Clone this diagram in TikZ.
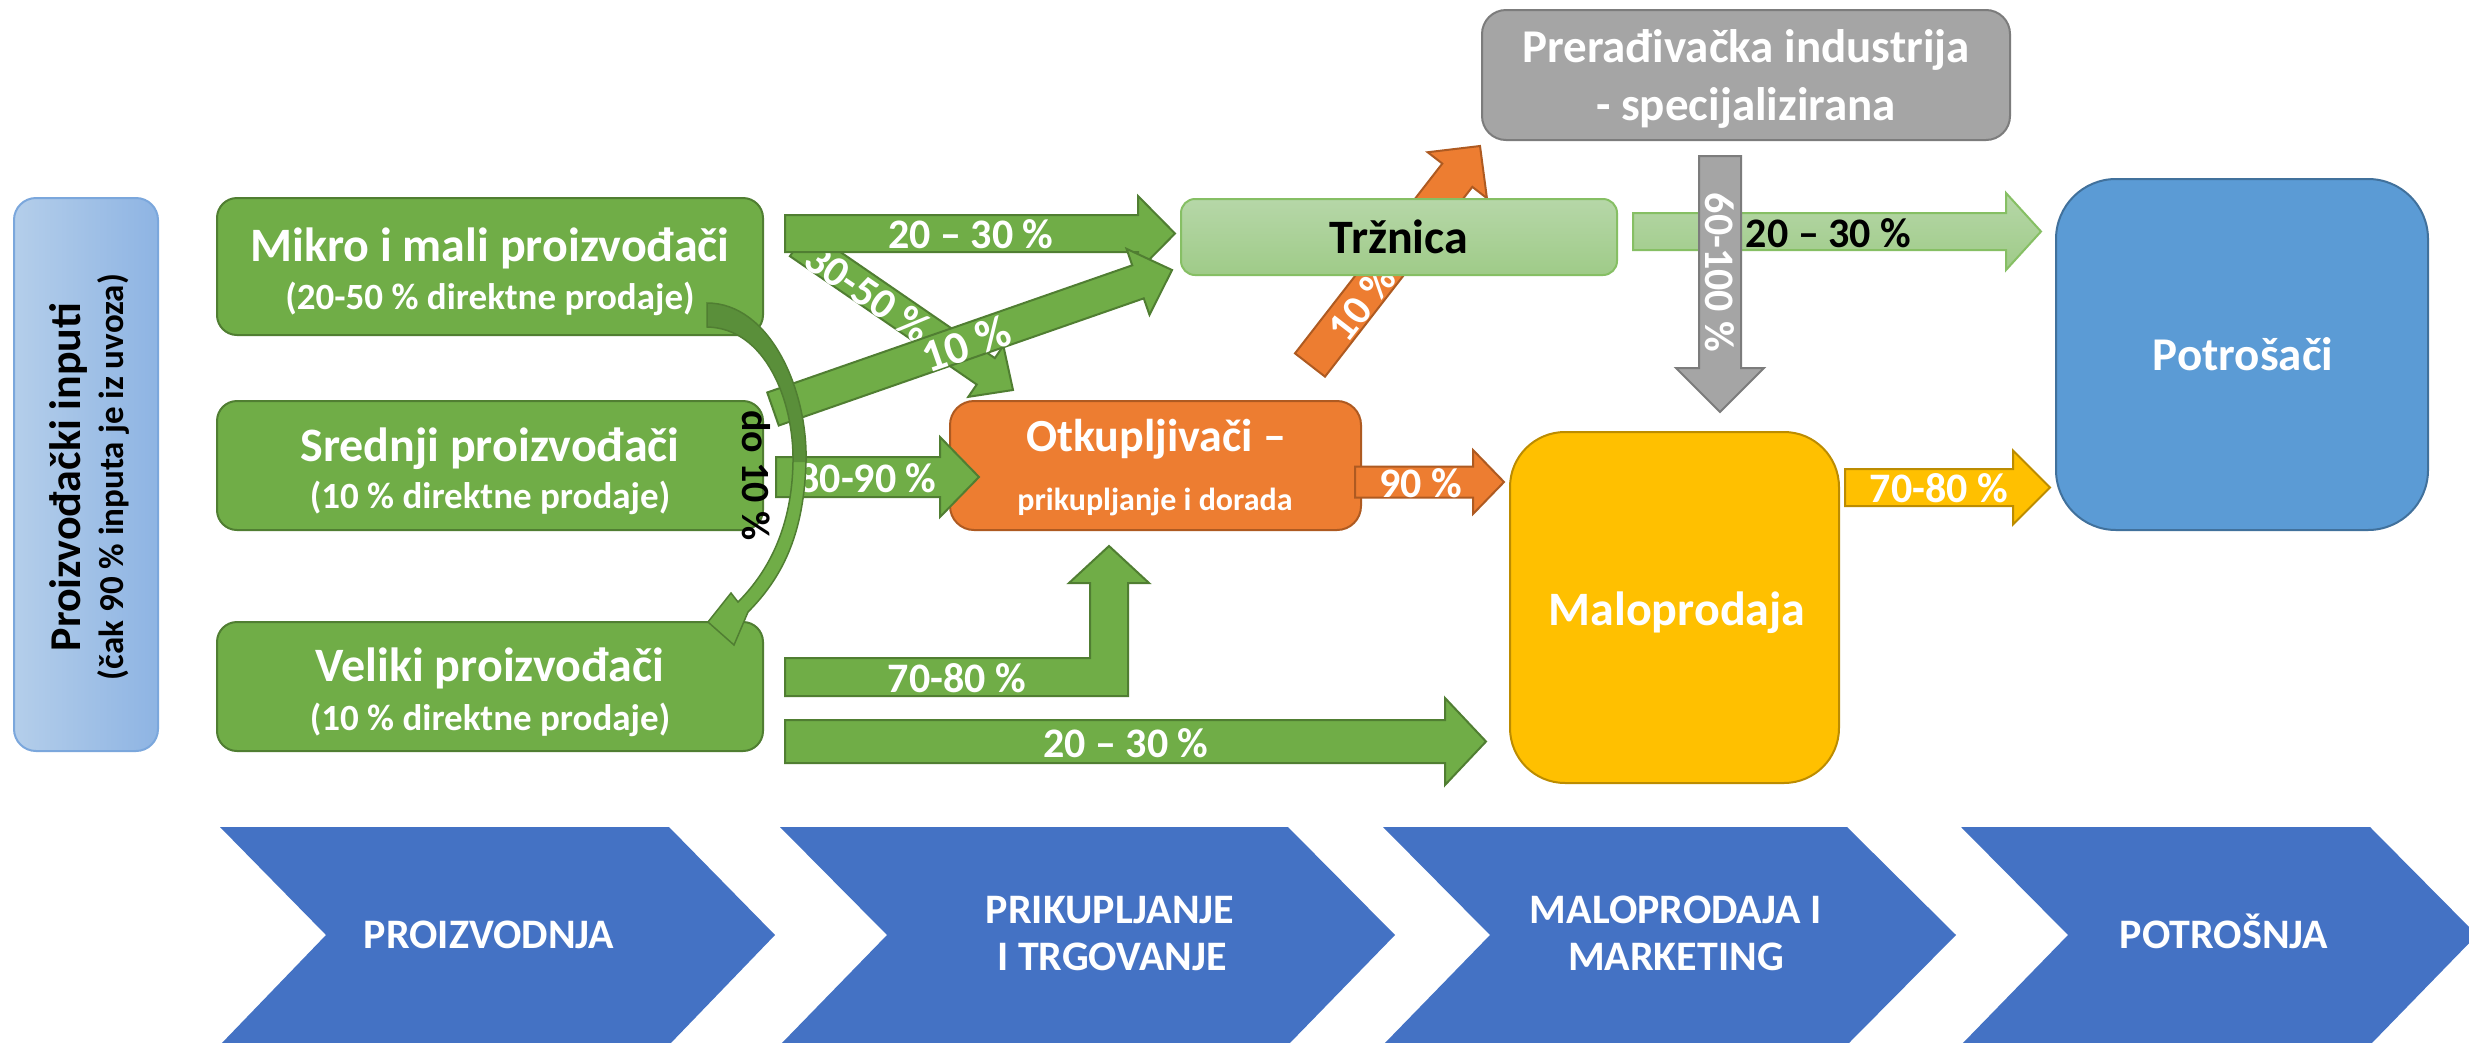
\documentclass[tikz,border=0pt]{standalone}
\usepackage{fontspec}
\setmainfont{Carlito}
\usetikzlibrary{calc}
\definecolor{grn}{HTML}{70AD47}
\definecolor{grnD}{HTML}{507E32}
\definecolor{grnDD}{HTML}{5A8F3A}
\definecolor{org}{HTML}{ED7D31}
\definecolor{orgD}{HTML}{AE5A21}
\definecolor{ylw}{HTML}{FFC000}
\definecolor{ylwD}{HTML}{BC8C00}
\definecolor{gry}{HTML}{A5A5A5}
\definecolor{gryD}{HTML}{7C7C7C}
\definecolor{blu}{HTML}{5B9BD5}
\definecolor{bluD}{HTML}{41719C}
\definecolor{chev}{HTML}{4472C4}
\definecolor{lgT}{HTML}{B6D7A8}
\definecolor{lgB}{HTML}{9FCB88}
\definecolor{lgD}{HTML}{86BF64}
\definecolor{inL}{HTML}{B4CEEA}
\definecolor{inR}{HTML}{8EB4E3}
\definecolor{inD}{HTML}{7BA7DC}
\newcommand\fsz[1]{\fontsize{#1}{#1}\selectfont}
% #1 style, #2 tail coord, #3 tip coord, #4 half shaft, #5 half head, #6 head length
\newcommand\blockarrow[6]{%
  \coordinate (ba-h) at ($(#3)!#6!(#2)$);
  \path[#1] ($(#2)!#4!90:(#3)$) -- ($(ba-h)!#4!90:(#3)$) -- ($(ba-h)!#5!90:(#3)$)
    -- (#3) -- ($(ba-h)!#5!-90:(#3)$) -- ($(ba-h)!#4!-90:(#3)$) -- ($(#2)!#4!-90:(#3)$) -- cycle;
}
\begin{document}
\begin{tikzpicture}[x=1pt,y=-1pt,
  box/.style={draw, rectangle, inner sep=0pt, outer sep=0pt, line width=2pt},
  wt/.style={text=white, inner sep=0pt},
  bt/.style={text=black, inner sep=0pt},
  lbl/.style={text=white, font=\bfseries\fsz{42}, inner sep=0pt},
  garrow/.style={fill=grn, draw=grnD, line width=2pt, line join=miter},
  oarrow/.style={fill=org, draw=orgD, line width=2pt, line join=miter},
  yarrow/.style={fill=ylw, draw=ylwD, line width=2pt, line join=miter},
  grarrow/.style={fill=gry, draw=gryD, line width=2pt, line join=miter},
  lgarrow/.style={top color=lgT, bottom color=lgB, draw=lgD, line width=2pt, line join=miter},
  chevtxt/.style={text=white, font=\bfseries\fsz{42}, inner sep=0pt, anchor=base}]
\fill[white] (0,0) rectangle (2469,1042);
\useasboundingbox (0,0) rectangle (2469,1042);

% ---------- bottom chevrons ----------
\fill[chev] (220,827) -- (669,827) -- (775,935) -- (669,1045) -- (220,1045) -- (326,935) -- cycle;
\fill[chev] (780,827) -- (1288,827) -- (1395,935) -- (1288,1045) -- (780,1045) -- (887,935) -- cycle;
\fill[chev] (1383,827) -- (1847,827) -- (1956,935) -- (1847,1045) -- (1383,1045) -- (1490,935) -- cycle;
\fill[chev] (1961,827) -- (2370,827) -- (2477,935) -- (2370,1045) -- (1961,1045) -- (2068,935) -- cycle;
\node[chevtxt] (ch1) at (489,948) {PROIZVODNJA};
\node[chevtxt] (ch2a) at (1110,923) {PRIKUPLJANJE};
\node[chevtxt] (ch2b) at (1112,970) {I TRGOVANJE};
\node[chevtxt] (ch3a) at (1676,923) {MALOPRODAJA I};
\node[chevtxt] (ch3b) at (1676,970) {MARKETING};
\node[chevtxt] (ch4) at (2224,948) {POTROŠNJA};

% ---------- boxes ----------
\node[box, draw=inD, left color=inL, right color=inR, rounded corners=22pt,
  minimum width=144pt, minimum height=553pt] (inputs) at (86,474.5) {};
\node[box, draw=grnD, fill=grn, rounded corners=20pt, minimum width=546pt, minimum height=137pt] (mikro) at (490,266.5) {};
\node[box, draw=grnD, fill=grn, rounded corners=20pt, minimum width=546pt, minimum height=129pt] (srednji) at (490,465.5) {};
\node[box, draw=grnD, fill=grn, rounded corners=20pt, minimum width=546pt, minimum height=129pt] (veliki) at (490,686.5) {};
\node[box, draw=orgD, fill=org, rounded corners=24pt, minimum width=411pt, minimum height=129pt] (otkup) at (1155.5,465.5) {};
\node[box, draw=ylwD, fill=ylw, rounded corners=55pt, minimum width=329pt, minimum height=351pt] (malo) at (1674.5,607.5) {};
\node[box, draw=bluD, fill=blu, rounded corners=60pt, minimum width=372pt, minimum height=351pt] (potr) at (2242,354.5) {};
\node[box, draw=gryD, fill=gry, rounded corners=24pt, minimum width=528pt, minimum height=130pt] (prer) at (1746,75) {};

% box texts
\node[bt, font=\bfseries\fsz{44}, rotate=90, anchor=base] (inputs-1) at (80,477) {Proizvođački inputi};
\node[bt, font=\bfseries\fsz{35}, rotate=90, anchor=base] (inputs-2) at (123,477) {(čak 90 \% inputa je iz uvoza)};
\node[wt, font=\bfseries\fsz{48}, anchor=base] (mikro-1) at (490,261.5) {Mikro i mali proizvođači};
\node[wt, font=\bfseries\fsz{37}, anchor=base] (mikro-2) at (490,309) {(20-50 \% direktne prodaje)};
\node[wt, font=\bfseries\fsz{48}, anchor=base] (srednji-1) at (490,461) {Srednji proizvođači};
\node[wt, font=\bfseries\fsz{37}, anchor=base] (srednji-2) at (490,508) {(10 \% direktne prodaje)};
\node[wt, font=\bfseries\fsz{48}, anchor=base] (veliki-1) at (490,681) {Veliki proizvođači};
\node[wt, font=\bfseries\fsz{37}, anchor=base] (veliki-2) at (490,730) {(10 \% direktne prodaje)};
\node[wt, font=\bfseries\fsz{46}, anchor=base] (otkup-1) at (1156,451) {Otkupljivači –};
\node[wt, font=\bfseries\fsz{32}, anchor=base] (otkup-2) at (1155,510) {prikupljanje i dorada};
\node[wt, font=\bfseries\fsz{48}, anchor=base] (malo-1) at (1677,625) {Maloprodaja};
\node[wt, font=\bfseries\fsz{47}, anchor=base] (potr-1) at (2243,370) {Potrošači};
\node[wt, font=\bfseries\fsz{47}, anchor=base] (prer-1) at (1746,62) {Prerađivačka industrija};
\node[wt, font=\bfseries\fsz{47}, anchor=base] (prer-2) at (1746,120) {- specijalizirana};

% ---------- orange arrow to processing industry (under Tržnica) ----------
\coordinate (a11s) at (1310,365); \coordinate (a11e) at (1480,146);
\blockarrow{oarrow}{a11s}{a11e}{19pt}{37.5pt}{37pt}
\node[lbl, rotate=52.2] (l11) at (1362,303) {10 \%};

% Tržnica
\node[box, draw=lgD, top color=lgT, bottom color=lgB, rounded corners=14pt,
  minimum width=436pt, minimum height=76pt] (trz) at (1399,237) {};
\node[bt, font=\bfseries\fsz{48}, anchor=base] (trz-1) at (1399,253) {Tržnica};

% ---------- green arrows ----------
\coordinate (a2s) at (799,243); \coordinate (a2e) at (1013,390);
\blockarrow{garrow}{a2s}{a2e}{16pt}{31pt}{33pt}
\node[lbl, font=\bfseries\fsz{43}, rotate=-34.5] (l2) at (868,293) {30-50 \%};

\coordinate (a1s) at (785,233.5); \coordinate (a1e) at (1175,233.5);
\blockarrow{garrow}{a1s}{a1e}{18.5pt}{37.5pt}{37pt}
\node[lbl, anchor=base] (l1) at (971,248) {20 – 30 \%};

\coordinate (a3s) at (773,409); \coordinate (a3e) at (1172,270);
\blockarrow{garrow}{a3s}{a3e}{17.5pt}{35pt}{36pt}
\node[lbl, font=\bfseries\fsz{46}, rotate=19.2] (l3) at (966,344) {10 \%};

\coordinate (a4s) at (776,477); \coordinate (a4e) at (979,477);
\blockarrow{garrow}{a4s}{a4e}{20pt}{40pt}{39pt}
\node[lbl, anchor=base] (l4) at (867.5,492) {80-90 \%};

\coordinate (a5s) at (1355,482); \coordinate (a5e) at (1504,482);
\blockarrow{oarrow}{a5s}{a5e}{15.5pt}{32pt}{31pt}
\node[lbl, anchor=base] (l5) at (1421,497) {90 \%};

\coordinate (a6s) at (1845,487.5); \coordinate (a6e) at (2050,487.5);
\blockarrow{yarrow}{a6s}{a6e}{18.5pt}{37pt}{37pt}
\node[lbl, anchor=base] (l6) at (1939,502) {70-80 \%};

% L-shaped arrow Veliki -> Otkupljivači
\coordinate (a7s) at (785,677); \coordinate (a7e) at (1109,546);
\draw[garrow] (785,658) -- (1090,658) -- (1090,583) -- (1069,583) -- (a7e) -- (1149,583)
  -- (1128,583) -- (1128,696) -- (785,696) -- cycle;
\node[lbl, anchor=base] (l7) at (957,692) {70-80 \%};

\coordinate (a8s) at (785,741.5); \coordinate (a8e) at (1486,741.5);
\blockarrow{garrow}{a8s}{a8e}{21.5pt}{43.5pt}{41pt}
\node[lbl, anchor=base] (l8) at (1126,757) {20 – 30 \%};

% Tržnica -> Potrošači
\coordinate (a9s) at (1633,231.5); \coordinate (a9e) at (2041,231.5);
\blockarrow{lgarrow}{a9s}{a9e}{18.5pt}{38.5pt}{35pt}
\node[bt, font=\bfseries\fsz{42}, anchor=base] (l9) at (1828.5,247) {20 – 30 \%};

% Prerađivačka -> Maloprodaja
\coordinate (a10s) at (1720,156); \coordinate (a10e) at (1720,412);
\blockarrow{grarrow}{a10s}{a10e}{21pt}{44pt}{44pt}
\node[lbl, rotate=-90, anchor=base] (l10) at (1705,272.5) {60-100 \%};

% ---------- curved arrow Mikro -> Veliki ----------
\coordinate (a12s) at (707,315); \coordinate (a12e) at (708,622);
\fill[grn] (707,303) .. controls (770,303) and (808,390) .. (806,462)
  .. controls (804,530) and (785,575) .. (748,612) -- (734,645) -- (a12e) -- (731,593) -- (738,602)
  .. controls (770,570) and (792,525) .. (793,462) .. controls (794,400) and (765,328) .. (707,327) -- cycle;
\fill[grnDD] (707,303) .. controls (770,303) and (808,390) .. (806,462) -- (793,462)
  .. controls (794,400) and (765,328) .. (707,327) -- cycle;
\draw[grnD, line width=1.5pt, line join=miter] (707,303) .. controls (770,303) and (808,390) .. (806,462)
  .. controls (804,530) and (785,575) .. (748,612) -- (734,645) -- (a12e) -- (731,593) -- (738,602)
  .. controls (770,570) and (792,525) .. (793,462) .. controls (794,400) and (765,328) .. (707,327) -- cycle;
\node[bt, font=\bfseries\fsz{40}, rotate=-90, anchor=base] (l12) at (742,475.5) {do 10 \%};
\end{tikzpicture}
\end{document}
